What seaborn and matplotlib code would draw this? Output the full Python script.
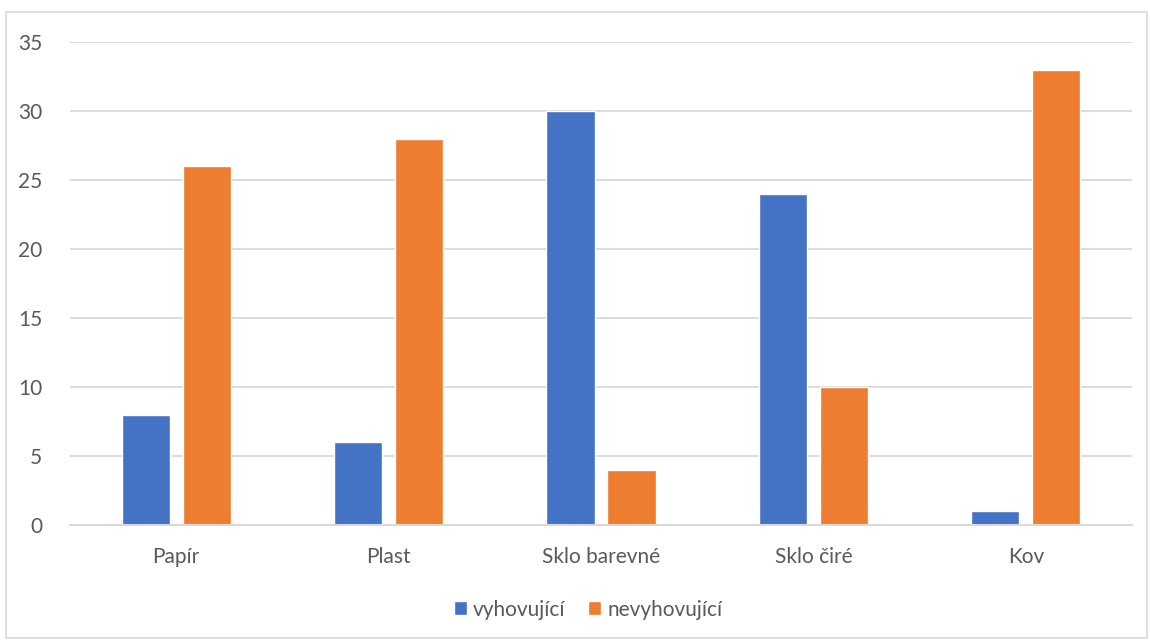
import matplotlib
matplotlib.use("Agg")
import matplotlib.pyplot as plt
import seaborn as sns
import pandas as pd
from matplotlib.patches import Rectangle

categories = ["Papír", "Plast", "Sklo barevné", "Sklo čiré", "Kov"]
series_names = ["vyhovující", "nevyhovující"]
vyhovujici = [8, 6, 30, 24, 1]
nevyhovujici = [26, 28, 4, 10, 33]
yticks = [0, 5, 10, 15, 20, 25, 30, 35]

df = pd.DataFrame({
    "kategorie": categories * 2,
    "hodnota": vyhovujici + nevyhovujici,
    "serie": [series_names[0]] * len(categories) + [series_names[1]] * len(categories),
})

sns.set_theme(style="white")
plt.rcParams['font.family'] = ['Lato', 'DejaVu Sans']

fig = plt.figure(figsize=(11.5, 6.4), dpi=100)
ax = fig.add_axes([70 / 1150, 1 - 525 / 640, (1132 - 70) / 1150, (525 - 42) / 640])

sns.barplot(data=df, x="kategorie", y="hodnota", hue="serie", order=categories,
            hue_order=series_names, palette=["#4472C4", "#ED7D31"],
            width=0.575, gap=0.21, ax=ax, legend=True, saturation=1)

ax.set_ylim(0, 35)
ax.set_xlim(-0.5, len(categories) - 0.5)
ax.set_yticks(yticks)
ax.set_yticklabels([str(t) for t in yticks])
ax.set_xlabel("")
ax.set_ylabel("")
ax.grid(axis="y", color="#d9d9d9", linewidth=1.3)
ax.set_axisbelow(True)
for s in ["top", "right", "left"]:
    ax.spines[s].set_visible(False)
ax.spines["bottom"].set_color("#d9d9d9")
ax.spines["bottom"].set_linewidth(1.5)
ax.tick_params(axis="y", length=0, pad=20, labelsize=15, labelcolor="#595959")
ax.tick_params(axis="x", length=0, pad=16, labelsize=15, labelcolor="#595959")

leg = ax.legend(loc="center", bbox_to_anchor=(0.488, -0.175), ncol=2, frameon=False,
                fontsize=15, handlelength=0.62, handleheight=0.62, columnspacing=1.1,
                handletextpad=0.3)
for t in leg.get_texts():
    t.set_color("#595959")

fig.patches.append(Rectangle((6 / 1150, 2 / 640), 1141 / 1150, 626 / 640,
                             transform=fig.transFigure, fill=False,
                             edgecolor="#d9d9d9", linewidth=1.2))

fig.savefig("out.png", dpi=100)
